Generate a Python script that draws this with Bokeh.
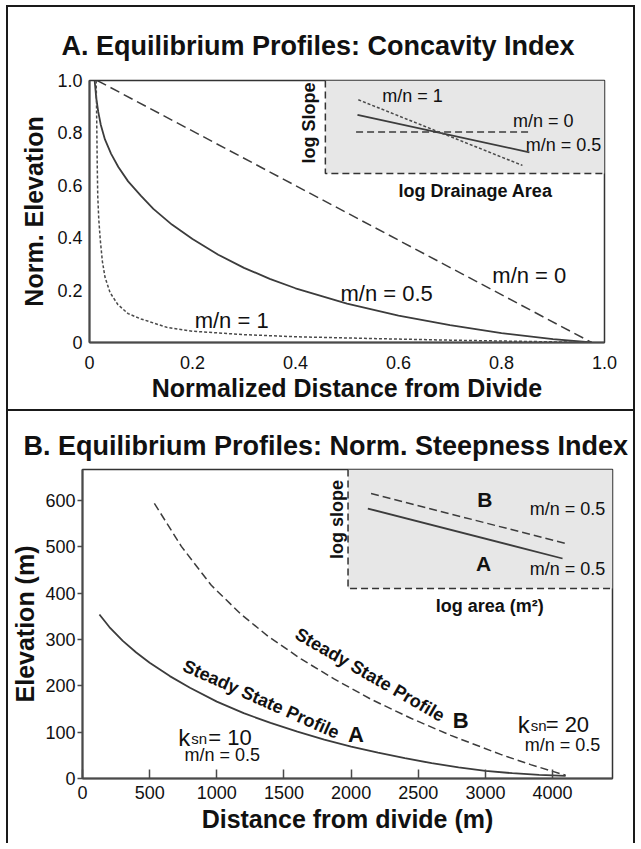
import math
from bokeh.plotting import figure
from bokeh.models import Range1d, FixedTicker
from bokeh.embed import file_html
from bokeh.resources import INLINE
from bokeh.core.properties import value

FONT = "Liberation Sans"
INK = "#111111"
CURVE = "#3c3c3c"
AXIS = "#4a4a4a"
INSET_FILL = "#e7e7e7"
FRAME = "2px solid #1a1a1a"

# ---------------- Panel A data (normalised profiles) ----------------
norm_ticks = [0, 0.2, 0.4, 0.6, 0.8, 1.0]
norm_tick_labels = ["0", "0.2", "0.4", "0.6", "0.8", "1.0"]

a_dist_mn0 = [0.015, 0.975]
a_elev_mn0 = [1.0, 0.0]

a_dist_mn05 = [0.010, 0.013, 0.017, 0.022, 0.030, 0.042, 0.056, 0.075, 0.100, 0.124,
               0.16, 0.20, 0.25, 0.30, 0.35, 0.40, 0.50, 0.60, 0.70, 0.80, 0.90, 0.975]
a_elev_mn05 = [1.0, 0.935, 0.88, 0.83, 0.775, 0.72, 0.67, 0.615, 0.56, 0.51,
               0.45, 0.395, 0.335, 0.285, 0.243, 0.207, 0.148, 0.103, 0.066, 0.036, 0.013, 0.0]

a_dist_mn1 = [0.013, 0.014, 0.015, 0.016, 0.018, 0.021, 0.025, 0.030, 0.040, 0.055,
              0.075, 0.10, 0.15, 0.20, 0.30, 0.40, 0.55, 0.70, 0.85, 0.975]
a_elev_mn1 = [1.0, 0.85, 0.68, 0.56, 0.47, 0.39, 0.31, 0.25, 0.19, 0.145,
              0.11, 0.09, 0.058, 0.043, 0.030, 0.022, 0.015, 0.009, 0.004, 0.0]

# inset A: schematic log slope vs log drainage area (arbitrary units, 0-10 box)
insA_area_mn0 = [1.1, 7.35]
insA_slope_mn0 = [4.46, 4.46]
insA_area_mn05 = [1.15, 7.31]
insA_slope_mn05 = [6.30, 2.28]
insA_area_mn1 = [1.18, 7.06]
insA_slope_mn1 = [7.93, 0.87]

# ---------------- Panel B data (steepness) ----------------
# the reference axis labels its last tick "4000" although it sits one 500-m step after 3000
dist_ticks = [0, 500, 1000, 1500, 2000, 2500, 3000, 3500]
dist_tick_labels = ["0", "500", "1000", "1500", "2000", "2500", "3000", "4000"]
elev_ticks = [0, 100, 200, 300, 400, 500, 600]

b_dist_A = [126, 200, 300, 400, 500, 650, 800, 1000, 1200, 1400, 1600, 1800, 2000,
            2200, 2400, 2600, 2800, 3000, 3200, 3400, 3597]
b_elev_A = [354, 327, 297, 272, 250, 221, 196, 166, 141, 120, 101, 84, 69,
            56, 44, 33, 24, 16.5, 11.5, 8, 5.5]

b_dist_B = [535, 736, 959, 1182, 1382, 1627, 1873, 2148, 2445, 2742, 3113, 3336, 3597]
b_elev_B = [594, 501, 417, 354, 307, 258, 215, 171, 130, 93, 52, 30, 7]

# inset B: schematic log slope vs log area (arbitrary units, 0-10 box)
insB_area_A = [0.75, 8.11]
insB_slope_A = [6.72, 2.52]
insB_area_B = [0.87, 8.23]
insB_slope_B = [7.98, 3.78]


def style_axes(p):
    for ax in (p.xaxis[0], p.yaxis[0]):
        ax.axis_line_color = AXIS
        ax.axis_line_width = 2
        ax.major_tick_line_color = AXIS
        ax.major_tick_line_width = 1.5
        ax.minor_tick_line_color = None
        ax.major_label_text_font = FONT
        ax.major_label_text_font_size = "18px"
        ax.major_label_text_color = INK
        ax.axis_label_text_font = FONT
        ax.axis_label_text_font_size = "25px"
        ax.axis_label_text_font_style = "bold"
        ax.axis_label_text_color = INK
    p.xgrid.grid_line_color = None
    p.ygrid.grid_line_color = None
    p.outline_line_color = "#333333"
    p.outline_line_width = 1.5
    p.background_fill_color = "white"
    p.border_fill_color = "white"
    p.title.text_font = FONT
    p.title.text_font_size = "27px"
    p.title.text_font_style = "bold"
    p.title.text_color = INK
    p.title.align = "left"


def txt(p, x, y, s, size, bold=False, align="center", baseline="middle", angle=0.0,
        xr="default", yr="default", x_off=0):
    p.text(x=[x], y=[y], text=[s], text_font=value(FONT), text_font_size=value(size),
           text_font_style="bold" if bold else "normal", text_color=INK,
           text_align=align, text_baseline=baseline, angle=angle, x_offset=x_off,
           x_range_name=xr, y_range_name=yr)


# ======================= Panel A =======================
pA = figure(width=629, height=406, output_backend="svg", toolbar_location=None,
            title="A. Equilibrium Profiles: Concavity Index",
            x_range=Range1d(0, 1.0), y_range=Range1d(0, 1.0),
            min_border_left=81, min_border_right=33, min_border_top=73, min_border_bottom=71)
pA.xaxis.axis_label = "Normalized Distance from Divide"
pA.yaxis.axis_label = "Norm. Elevation"
style_axes(pA)
pA.title.offset = -28
pA.title.standoff = 39
for ax in (pA.xaxis[0], pA.yaxis[0]):
    ax.ticker = FixedTicker(ticks=norm_ticks)
    ax.major_label_overrides = {t: l for t, l in zip(norm_ticks, norm_tick_labels)}
    ax.major_tick_in = 0
    ax.major_tick_out = 0
pA.xaxis.major_label_standoff = 13
pA.xaxis.axis_label_standoff = 2
pA.yaxis.major_label_standoff = 7
pA.yaxis.axis_label_standoff = 6

pA.extra_x_ranges = {"ia_x": Range1d(-8.45, 10)}
pA.extra_y_ranges = {"ia_y": Range1d(-18.17, 10)}

# inset box
pA.quad(left=[0], right=[10], bottom=[0], top=[10], fill_color=INSET_FILL, line_color=None,
        x_range_name="ia_x", y_range_name="ia_y")
pA.line(x=[0, 0, 10], y=[10, 0, 0], line_color="#333333", line_width=1.5, line_dash="7 4",
        x_range_name="ia_x", y_range_name="ia_y")
pA.line(x=insA_area_mn0, y=insA_slope_mn0, line_color=CURVE, line_width=1.5, line_dash="7 4",
        x_range_name="ia_x", y_range_name="ia_y")
pA.line(x=insA_area_mn05, y=insA_slope_mn05, line_color=CURVE, line_width=1.8,
        x_range_name="ia_x", y_range_name="ia_y")
pA.line(x=insA_area_mn1, y=insA_slope_mn1, line_color="#4a4a4a", line_width=1.5, line_dash="3 2",
        x_range_name="ia_x", y_range_name="ia_y")
txt(pA, 3.12, 8.37, "m/n = 1", "18px", xr="ia_x", yr="ia_y")
txt(pA, 7.81, 5.65, "m/n = 0", "18px", xr="ia_x", yr="ia_y")
txt(pA, 8.53, 3.04, "m/n = 0.5", "18px", xr="ia_x", yr="ia_y")
txt(pA, -0.57, 5.43, "log Slope", "18px", bold=True, angle=math.pi / 2, xr="ia_x", yr="ia_y")
txt(pA, 5.38, -1.85, "log Drainage Area", "18px", bold=True, xr="ia_x", yr="ia_y")

# main curves
pA.line(x=a_dist_mn0, y=a_elev_mn0, line_color=CURVE, line_width=1.5, line_dash="10 5")
pA.line(x=a_dist_mn05, y=a_elev_mn05, line_color=CURVE, line_width=1.8)
pA.line(x=a_dist_mn1, y=a_elev_mn1, line_color="#4a4a4a", line_width=1.5, line_dash="3 2")

txt(pA, 0.854, 0.256, "m/n = 0", "22px")
txt(pA, 0.577, 0.187, "m/n = 0.5", "22px")
txt(pA, 0.276, 0.084, "m/n = 1", "22px")

pA.styles = {"margin-left": "6px", "margin-top": "5px",
             "border-top": FRAME, "border-left": FRAME, "border-right": FRAME, "border-bottom": FRAME}

# ======================= Panel B =======================
pB = figure(width=629, height=432, output_backend="svg", toolbar_location=None,
            title="B. Equilibrium Profiles: Norm. Steepness Index",
            x_range=Range1d(0, 3946), y_range=Range1d(0, 667),
            min_border_left=73, min_border_right=25, min_border_top=58, min_border_bottom=65)
pB.xaxis.axis_label = "Distance from divide (m)"
pB.yaxis.axis_label = "Elevation (m)"
style_axes(pB)
pB.title.offset = -59
pB.title.standoff = 17
pB.xaxis.ticker = FixedTicker(ticks=dist_ticks)
pB.xaxis.major_label_overrides = {t: l for t, l in zip(dist_ticks, dist_tick_labels)}
pB.xaxis.major_tick_in = 9
pB.xaxis.major_tick_out = 0
pB.xaxis.major_label_standoff = 7
pB.xaxis.axis_label_standoff = 3
pB.yaxis.ticker = FixedTicker(ticks=elev_ticks)
pB.yaxis.major_label_overrides = {t: str(t) for t in elev_ticks}
pB.yaxis.major_tick_in = 0
pB.yaxis.major_tick_out = 5
pB.yaxis.major_label_standoff = 2
pB.yaxis.axis_label_standoff = 3

pB.extra_x_ranges = {"ib_x": Range1d(-10.04, 10)}
pB.extra_y_ranges = {"ib_y": Range1d(-15.97, 10)}

pB.quad(left=[0], right=[10], bottom=[0], top=[10], fill_color=INSET_FILL, line_color=None,
        x_range_name="ib_x", y_range_name="ib_y")
pB.line(x=[0, 0, 10], y=[10, 0, 0], line_color="#333333", line_width=1.5, line_dash="7 4",
        x_range_name="ib_x", y_range_name="ib_y")
pB.line(x=insB_area_B, y=insB_slope_B, line_color=CURVE, line_width=1.5, line_dash="8 4",
        x_range_name="ib_x", y_range_name="ib_y")
pB.line(x=insB_area_A, y=insB_slope_A, line_color=CURVE, line_width=1.8,
        x_range_name="ib_x", y_range_name="ib_y")
txt(pB, 5.17, 7.48, "B", "21px", bold=True, xr="ib_x", yr="ib_y")
txt(pB, 5.13, 2.10, "A", "21px", bold=True, xr="ib_x", yr="ib_y")
txt(pB, 8.30, 6.64, "m/n = 0.5", "18px", xr="ib_x", yr="ib_y")
txt(pB, 8.30, 1.60, "m/n = 0.5", "18px", xr="ib_x", yr="ib_y")
txt(pB, -0.42, 5.8, "log slope", "18px", bold=True, angle=math.pi / 2, xr="ib_x", yr="ib_y")
txt(pB, 5.36, -1.51, "log area (m²)", "18px", bold=True, xr="ib_x", yr="ib_y")

pB.line(x=b_dist_B, y=b_elev_B, line_color=CURVE, line_width=1.5, line_dash="8 4")
pB.line(x=b_dist_A, y=b_elev_A, line_color=CURVE, line_width=1.8)

txt(pB, 1330, 171, "Steady State Profile", "18px", bold=True, angle=math.radians(-24))
txt(pB, 2036, 95, "A", "22px", bold=True)
txt(pB, 2140, 224, "Steady State Profile", "18px", bold=True, angle=math.radians(-30))
txt(pB, 2816, 125, "B", "22px", bold=True)

# k_sn = 10
txt(pB, 713, 89, "k", "24px", align="left", baseline="alphabetic")
txt(pB, 713, 87, "sn", "15px", align="left", baseline="alphabetic", x_off=13)
txt(pB, 713, 89, "= 10", "22px", align="left", baseline="alphabetic", x_off=30)
txt(pB, 1040, 51, "m/n = 0.5", "18px")
# k_sn = 20
txt(pB, 3240, 116, "k", "24px", align="left", baseline="alphabetic")
txt(pB, 3240, 114, "sn", "15px", align="left", baseline="alphabetic", x_off=13)
txt(pB, 3240, 116, "= 20", "22px", align="left", baseline="alphabetic", x_off=28)
txt(pB, 3574, 72, "m/n = 0.5", "18px")

pB.styles = {"margin-left": "6px", "border-left": FRAME, "border-right": FRAME}

open("out.html", "w").write(file_html([pA, pB], INLINE))
